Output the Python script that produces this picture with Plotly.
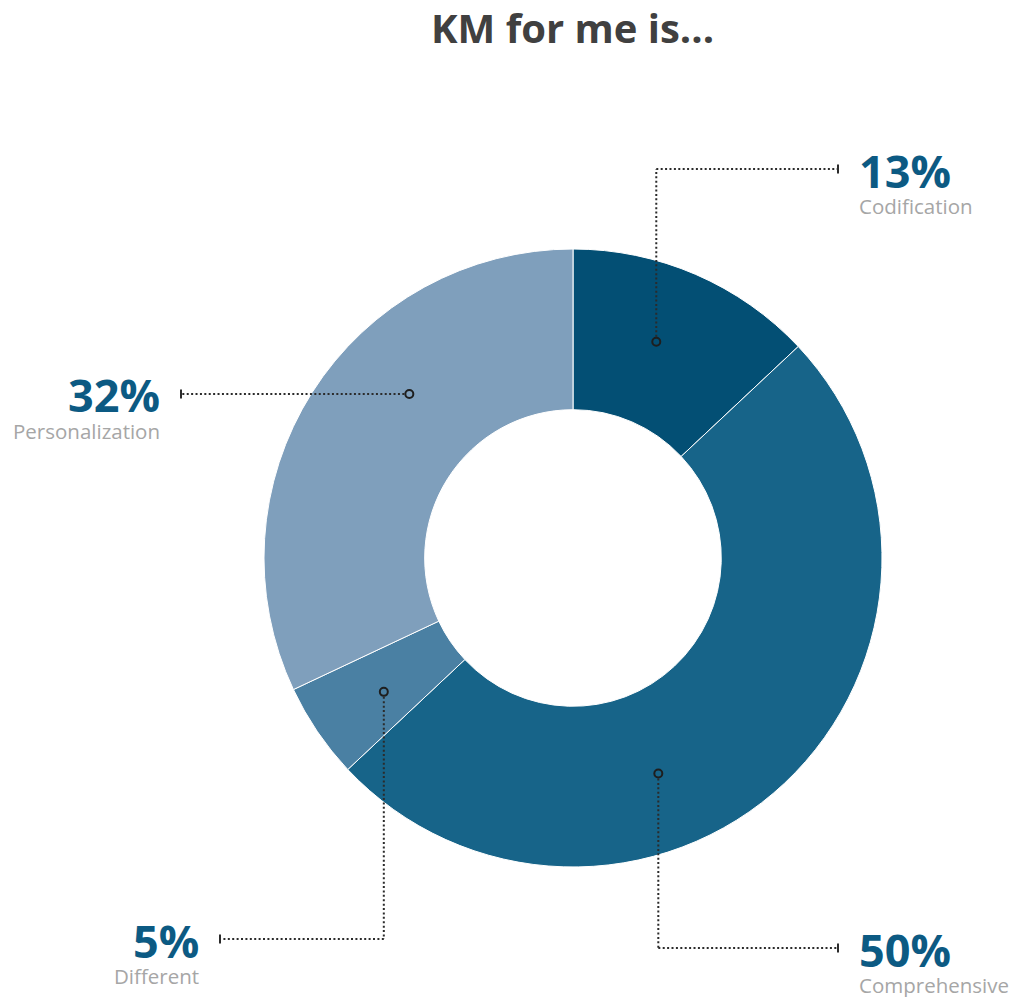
import math
import plotly.graph_objects as go

# --- data ---------------------------------------------------------------
labels = ["Codification", "Comprehensive", "Different", "Personalization"]
values = [13, 50, 5, 32]
colors = ["#034f74", "#176489", "#4a80a3", "#7f9fbc"]
title_text = "KM for me is..."

# --- canvas / donut geometry (pixels) -----------------------------------
W, H = 1021, 997
CX, CY, R_OUT = 573, 558, 309
HOLE = 0.48

# Callout routing for each slice: where the marker sits inside the slice
# (fraction of the slice's sweep), where the leader elbows, and where it ends.
callouts = {
    "Codification":    dict(frac=0.45, elbow_y=169, end_x=838, side="right"),
    "Comprehensive":   dict(frac=0.62, elbow_y=948, end_x=838, side="right"),
    "Different":       dict(frac=0.44, elbow_y=939, end_x=220, side="left"),
    "Personalization": dict(frac=0.61, elbow_y=None, end_x=181, side="left"),
}
R_MARK = 0.75 * R_OUT
MARK_R = 4
TEXT_GAP = 19
PCT_COLOR = "#0c5a83"
SUB_COLOR = "#a6a6a6"
LINE_COLOR = "#2b2b2b"
FONT = "Open Sans"


def polar(angle_deg, r):
    a = math.radians(angle_deg)
    return CX + r * math.sin(a), CY - r * math.cos(a)


fig = go.Figure()

fig.add_trace(go.Pie(
    labels=labels,
    values=values,
    sort=False,
    direction="clockwise",
    rotation=0,
    hole=HOLE,
    marker=dict(colors=colors, line=dict(color="white", width=1)),
    textinfo="none",
    hoverinfo="label+percent",
    showlegend=False,
    domain=dict(
        x=[(CX - R_OUT) / W, (CX + R_OUT) / W],
        y=[1 - (CY + R_OUT) / H, 1 - (CY - R_OUT) / H],
    ),
))

total = float(sum(values))
start = 0.0
shapes, annotations = [], []
dash = "2px,2.4px"

for lab, val in zip(labels, values):
    sweep = 360.0 * val / total
    cfg = callouts[lab]
    ang = start + cfg["frac"] * sweep
    start += sweep
    px, py = polar(ang, R_MARK)

    # leader line: optional vertical run, then horizontal run to the label
    if cfg["elbow_y"] is not None:
        ly = cfg["elbow_y"]
        off = MARK_R + 1 if ly < py else -(MARK_R + 1)
        shapes.append(dict(type="line", xref="x", yref="y",
                           x0=px, y0=py - off, x1=px, y1=ly,
                           line=dict(color=LINE_COLOR, width=2, dash=dash)))
        hx0 = px
    else:
        ly = py
        step = MARK_R + 1
        hx0 = px - step if cfg["end_x"] < px else px + step
    shapes.append(dict(type="line", xref="x", yref="y",
                       x0=hx0, y0=ly, x1=cfg["end_x"], y1=ly,
                       line=dict(color=LINE_COLOR, width=2, dash=dash)))
    # end tick
    shapes.append(dict(type="line", xref="x", yref="y",
                       x0=cfg["end_x"], y0=ly - 4.5, x1=cfg["end_x"], y1=ly + 4.5,
                       line=dict(color=LINE_COLOR, width=2)))
    # hollow marker on the slice
    shapes.append(dict(type="circle", xref="x", yref="y",
                       x0=px - MARK_R, y0=py - MARK_R, x1=px + MARK_R, y1=py + MARK_R,
                       line=dict(color="#1e1e1e", width=2), fillcolor="rgba(0,0,0,0)"))

    if cfg["side"] == "right":
        tx, anchor = cfg["end_x"] + TEXT_GAP, "left"
    else:
        tx, anchor = cfg["end_x"] - TEXT_GAP, "right"
    annotations.append(dict(
        x=tx, y=ly + 1, xref="x", yref="y", xanchor=anchor, yanchor="middle",
        text=f"<b>{val}%</b>", showarrow=False,
        font=dict(family=FONT, size=45, color=PCT_COLOR)))
    annotations.append(dict(
        x=tx, y=ly + 37, xref="x", yref="y", xanchor=anchor, yanchor="middle",
        text=lab, showarrow=False,
        font=dict(family=FONT, size=20.5, color=SUB_COLOR)))

annotations.append(dict(
    x=572, y=27, xref="x", yref="y", xanchor="center", yanchor="middle",
    text=f"<b>{title_text}</b>", showarrow=False,
    font=dict(family=FONT, size=40, color="#404040")))

fig.update_layout(
    width=W, height=H,
    margin=dict(l=0, r=0, t=0, b=0),
    paper_bgcolor="white", plot_bgcolor="white",
    xaxis=dict(range=[0, W], visible=False, fixedrange=True, domain=[0, 1]),
    yaxis=dict(range=[H, 0], visible=False, fixedrange=True, domain=[0, 1]),
    shapes=shapes,
    annotations=annotations,
)

fig.write_html("out.html")
